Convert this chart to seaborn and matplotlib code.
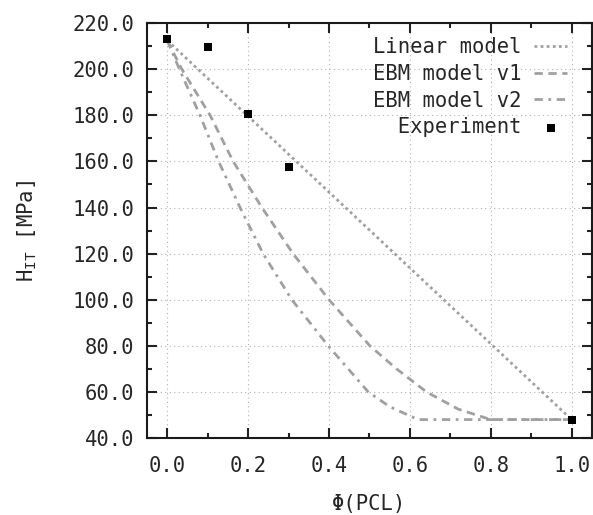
import matplotlib
matplotlib.use('Agg')
import matplotlib.pyplot as plt
import seaborn as sns
import pandas as pd
from matplotlib.ticker import MultipleLocator, FormatStrFormatter

# volume fraction of PCL and indentation hardness (MPa)
linear_x = [0.0, 1.0]
linear_y = [212.5, 48.0]

ebm1_x = [0.0, 0.036, 0.106, 0.163, 0.234, 0.311, 0.40, 0.501, 0.567, 0.641, 0.72, 0.80, 1.0]
ebm1_y = [212.5, 200.0, 180.0, 160.0, 140.0, 120.0, 100.0, 80.0, 70.0, 60.0, 52.5, 48.0, 48.0]

ebm2_x = [0.0, 0.03, 0.081, 0.127, 0.180, 0.237, 0.308, 0.398, 0.497, 0.55, 0.62, 1.0]
ebm2_y = [212.5, 200.0, 180.0, 160.0, 140.0, 120.0, 100.0, 80.0, 60.0, 53.6, 48.0, 48.0]

exp_x = [0.0, 0.1, 0.2, 0.3, 1.0]
exp_y = [213.0, 209.5, 180.8, 157.7, 47.8]

sns.set_style('ticks')
plt.rcParams['font.family'] = ['DejaVu Sans Mono', 'DejaVu Sans']
plt.rcParams['mathtext.fontset'] = 'custom'
plt.rcParams['mathtext.rm'] = 'DejaVu Sans Mono'
plt.rcParams['mathtext.it'] = 'DejaVu Sans Mono'
fs = 14.8
plt.rcParams['font.size'] = fs

fig = plt.figure(figsize=(5.93, 5.15), dpi=100)
ax = fig.add_axes([0.248, 0.1495, 0.75, 0.8055])

grey = '#a0a0a0'
sns.lineplot(x=linear_x, y=linear_y, ax=ax, color=grey, lw=2, linestyle=(0, (1, 1.2)),
             label='Linear model', sort=False)
sns.lineplot(x=ebm1_x, y=ebm1_y, ax=ax, color=grey, lw=2, linestyle=(0, (3, 2)),
             label='EBM model v1', sort=False)
sns.lineplot(x=ebm2_x, y=ebm2_y, ax=ax, color=grey, lw=2, linestyle=(0, (3, 2, 1, 2)),
             label='EBM model v2', sort=False)
sns.scatterplot(x=exp_x, y=exp_y, ax=ax, color='black', marker='s', s=32,
                edgecolor='black', linewidth=0, label='  Experiment', zorder=5)

ax.set_xlim(-0.05, 1.05)
ax.set_ylim(40, 220)
ax.xaxis.set_major_locator(MultipleLocator(0.2))
ax.xaxis.set_minor_locator(MultipleLocator(0.1))
ax.yaxis.set_major_locator(MultipleLocator(20))
ax.yaxis.set_minor_locator(MultipleLocator(10))
ax.xaxis.set_major_formatter(FormatStrFormatter('%.1f'))
ax.yaxis.set_major_formatter(FormatStrFormatter('%.1f'))

ax.grid(True, which='major', color='#b0b0b0', linestyle=(0, (1, 3)), lw=0.8)
ax.tick_params(which='both', direction='in', top=True, right=True, color='#222222', width=1.5)
ax.tick_params(which='major', length=7)
ax.tick_params(which='minor', length=3.5)
ax.tick_params(axis='x', which='major', pad=13, labelsize=fs)
ax.tick_params(axis='y', which='major', pad=9, labelsize=fs)
for s in ax.spines.values():
    s.set_linewidth(1.5)
    s.set_color('#1a1a1a')

ax.set_xlabel('Φ(PCL)', fontsize=fs, labelpad=13)
ax.set_ylabel(r'H$_{\rm IT}$ [MPa]', fontsize=fs, labelpad=24)

leg = ax.legend(loc='upper right', bbox_to_anchor=(1.0, 1.025), frameon=False,
                markerfirst=False, fontsize=fs,
                handlelength=1.6, handletextpad=0.6, labelspacing=0.32,
                borderaxespad=0.8, borderpad=0.4)

fig.savefig('out.png', dpi=100)
